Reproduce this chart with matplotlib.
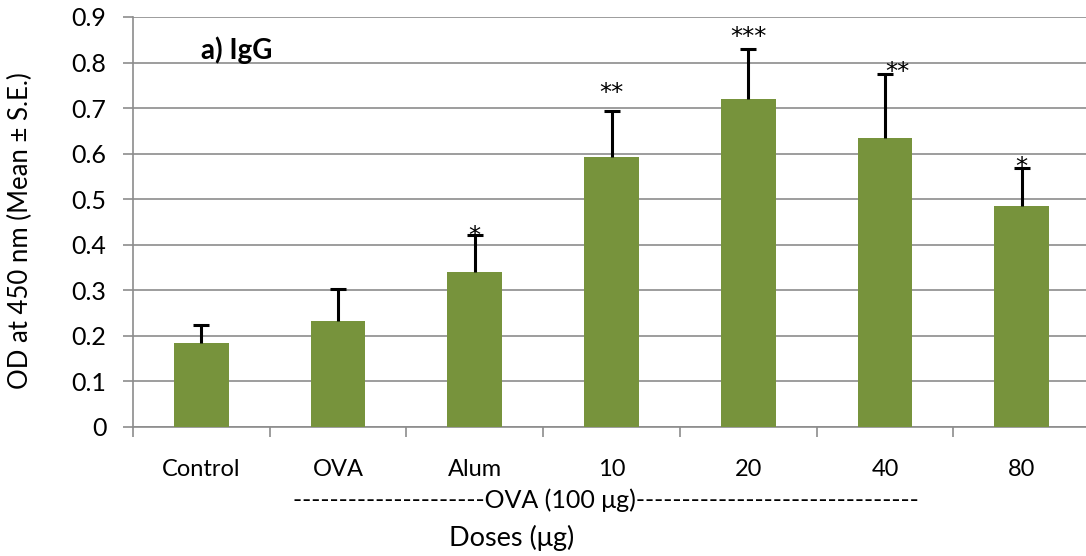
import numpy as np
import matplotlib
matplotlib.use('Agg')
import matplotlib.pyplot as plt

# --- data ---
groups = ['Control', 'OVA', 'Alum', '10', '20', '40', '80']
means = [0.184, 0.233, 0.341, 0.593, 0.719, 0.634, 0.485]
upper_err = [0.040, 0.070, 0.080, 0.101, 0.110, 0.140, 0.083]
stars = ['', '', '*', '**', '***', '**', '*']
star_y = [0, 0, 0.420, 0.734, 0.856, 0.780, 0.571]
star_dx = [0, 0, 0, 0, 0, 0.09, 0]
yticks = [0, 0.1, 0.2, 0.3, 0.4, 0.5, 0.6, 0.7, 0.8, 0.9]
ytick_labels = ['0', '0.1', '0.2', '0.3', '0.4', '0.5', '0.6', '0.7', '0.8', '0.9']

plt.rcParams['font.family'] = ['Lato', 'DejaVu Sans']
bar_color = '#77933C'
grid_color = '#8c8c8c'

fig = plt.figure(figsize=(10.86, 5.56), dpi=100)
ax = fig.add_axes([133 / 1086, 1 - 427 / 556, 1 - 133 / 1086, 410 / 556])

x = np.arange(len(groups))
ax.bar(x, means, width=0.4, color=bar_color, zorder=3)
eb = ax.errorbar(x, means, yerr=[np.zeros(len(x)), upper_err], fmt='none',
                 ecolor='black', elinewidth=2.2, capsize=6, capthick=2.2,
                 zorder=4)
# only the upper cap is drawn in the original
eb[1][0].set_visible(False)

for xi, s, sy, dx in zip(x, stars, star_y, star_dx):
    if s:
        ax.text(xi + dx, sy, s, ha='center', va='center', fontsize=17.5,
                family='DejaVu Sans', color='black', zorder=5)

ax.text(0.0, 0.8275, 'a) IgG', fontsize=20, fontweight='bold',
        ha='left', va='center')

ax.set_xlim(-0.5, 6.47)
ax.set_ylim(0, 0.9)
ax.set_yticks(yticks)
ax.set_yticklabels(ytick_labels)
ax.set_xticks(x)
ax.set_xticklabels(groups)
ax.set_xticks(np.arange(-0.5, 6.5, 1), minor=True)
ax.tick_params(axis='x', which='major', length=0, pad=23, labelsize=17)
ax.tick_params(axis='x', which='minor', length=7, width=1.2, color=grid_color)
ax.tick_params(axis='y', length=7, width=1.2, color=grid_color, pad=12,
               labelsize=18)

ax.yaxis.grid(True, color=grid_color, linewidth=1.2, zorder=0)
ax.set_axisbelow(True)
for side in ['top', 'right']:
    ax.spines[side].set_visible(False)
for side in ['left', 'bottom']:
    ax.spines[side].set_color(grid_color)
    ax.spines[side].set_linewidth(1.2)

ax.set_ylabel('OD at 450 nm (Mean \u00b1 S.E.)', fontsize=18.5)
ax.yaxis.set_label_coords(-100 / 953, 0.48)

ax.text(2.96, -0.16, '-' * 21 + 'OVA (100 \u03bcg)' + '-' * 31,
        ha='center', va='center', fontsize=18)
ax.text(2.27, -0.243, 'Doses (\u03bcg)', ha='center', va='center',
        fontsize=19.5)

fig.savefig('out.png', dpi=100)
